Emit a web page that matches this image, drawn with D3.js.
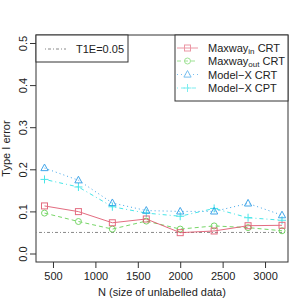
<!DOCTYPE html>
<html>
<head>
<meta charset="utf-8">
<script src="https://cdn.jsdelivr.net/npm/d3@7"></script>
<style>
  body { margin: 0; background: #fff; }
  svg { font-family: "Liberation Sans", Arial, sans-serif; }
</style>
</head>
<body>
<div id="container"></div>
<script>
const nValues = [400, 800, 1200, 1600, 2000, 2400, 2800, 3200];
const maxwayIn = [0.113, 0.0995, 0.073, 0.082, 0.0495, 0.0535, 0.066, 0.067];
const maxwayOut = [0.096, 0.076, 0.058, 0.077, 0.058, 0.0655, 0.0615, 0.054];
const modelXCrt = [0.203, 0.174, 0.12, 0.102, 0.1, 0.1, 0.119, 0.091];
const modelXCpt = [0.176, 0.158, 0.111, 0.096, 0.0885, 0.107, 0.085, 0.079];
const xTicks = [500, 1000, 1500, 2000, 2500, 3000];
const yTicks = [0, 0.1, 0.2, 0.3, 0.4, 0.5];
const threshold = 0.05;

const series = [
  { name: 'Maxway', sub: 'in', rest: ' CRT', values: maxwayIn, color: '#DF536B', dash: null, pch: 'square' },
  { name: 'Maxway', sub: 'out', rest: ' CRT', values: maxwayOut, color: '#61D04F', dash: '4,3', pch: 'circle' },
  { name: 'Model\u2212X CRT', sub: null, rest: '', values: modelXCrt, color: '#2297E6', dash: '1,3', pch: 'triangle' },
  { name: 'Model\u2212X CPT', sub: null, rest: '', values: modelXCpt, color: '#28E2E5', dash: '1,3,4,3', pch: 'plus' }
];

const width = 307, height = 307;
const box = { left: 36, right: 288, top: 35, bottom: 262 };

const svg = d3.select('#container').append('svg')
  .attr('width', width)
  .attr('height', height);

const x = d3.scaleLinear().domain([400, 3200]).range([44.5, 282]);
const y = d3.scaleLinear().domain([0, 0.5]).range([253.5, 43]);

// axes
const xAxis = d3.axisBottom(x).tickValues(xTicks).tickFormat(d3.format('d')).tickSize(6).tickPadding(4);
svg.append('g')
  .attr('transform', `translate(0, ${box.bottom})`)
  .call(xAxis)
  .call(g => g.select('.domain').remove())
  .call(g => g.selectAll('line').attr('stroke', '#333'))
  .call(g => g.selectAll('text').attr('font-size', 11).attr('fill', '#222').attr('font-family', null));

const yAxis = d3.axisLeft(y).tickValues(yTicks).tickFormat(d3.format('.1f')).tickSize(6).tickPadding(3);
const yg = svg.append('g')
  .attr('transform', `translate(${box.left}, 0)`)
  .call(yAxis)
  .call(g => g.select('.domain').remove())
  .call(g => g.selectAll('line').attr('stroke', '#333'));
yg.selectAll('text')
  .attr('font-size', 11).attr('fill', '#222').attr('font-family', null)
  .attr('x', null).attr('dy', null)
  .attr('text-anchor', 'middle')
  .attr('transform', 'translate(-9, 0) rotate(-90)');

// box
svg.append('rect')
  .attr('x', box.left).attr('y', box.top)
  .attr('width', box.right - box.left).attr('height', box.bottom - box.top)
  .attr('fill', 'none').attr('stroke', '#333');

// axis titles
svg.append('text')
  .attr('x', (box.left + box.right) / 2).attr('y', 296)
  .attr('text-anchor', 'middle').attr('font-size', 11).attr('fill', '#222')
  .text('N (size of unlabelled data)');
svg.append('text')
  .attr('transform', `translate(10, ${(box.top + box.bottom) / 2}) rotate(-90)`)
  .attr('text-anchor', 'middle').attr('font-size', 11).attr('fill', '#222')
  .text('Type I error');

// threshold line
svg.append('line')
  .attr('x1', box.left).attr('x2', box.right)
  .attr('y1', y(threshold)).attr('y2', y(threshold))
  .attr('stroke', '#888').attr('stroke-dasharray', '1,2,3,2');

function drawSymbol(g, type, cx, cy, color) {
  if (type === 'square') {
    g.append('rect').attr('x', cx - 3).attr('y', cy - 3).attr('width', 6).attr('height', 6)
      .attr('fill', 'none').attr('stroke', color);
  } else if (type === 'circle') {
    g.append('circle').attr('cx', cx).attr('cy', cy).attr('r', 3)
      .attr('fill', 'none').attr('stroke', color);
  } else if (type === 'triangle') {
    g.append('path').attr('d', `M${cx},${cy - 4}L${cx + 3.6},${cy + 2.6}L${cx - 3.6},${cy + 2.6}Z`)
      .attr('fill', 'none').attr('stroke', color);
  } else {
    g.append('path').attr('d', `M${cx - 4},${cy}H${cx + 4}M${cx},${cy - 4}V${cy + 4}`)
      .attr('fill', 'none').attr('stroke', color);
  }
}

const line = d3.line().x((d, i) => x(nValues[i])).y(d => y(d));

series.slice().reverse().forEach(s => {
  const g = svg.append('g').attr('opacity', 0.85);
  g.append('path')
    .attr('d', line(s.values))
    .attr('fill', 'none').attr('stroke', s.color).attr('stroke-width', 1)
    .attr('stroke-dasharray', s.dash);
  s.values.forEach((v, i) => drawSymbol(g, s.pch, x(nValues[i]), y(v), s.color));
});

// left legend
svg.append('rect')
  .attr('x', box.left).attr('y', box.top).attr('width', 92).attr('height', 27)
  .attr('fill', '#fff').attr('stroke', '#333');
svg.append('line')
  .attr('x1', 45).attr('x2', 66).attr('y1', 49).attr('y2', 49)
  .attr('stroke', '#888').attr('stroke-dasharray', '1,2,3,2');
svg.append('text')
  .attr('x', 76).attr('y', 53).attr('font-size', 11).attr('fill', '#222')
  .text('T1E=0.05');

// right legend
svg.append('rect')
  .attr('x', 175).attr('y', box.top).attr('width', box.right - 175).attr('height', 66)
  .attr('fill', '#fff').attr('stroke', '#333');
const legendY = [48, 61, 74.5, 88];
series.forEach((s, i) => {
  const ly = legendY[i];
  const g = svg.append('g').attr('opacity', 0.6);
  g.append('line')
    .attr('x1', 177).attr('x2', 198).attr('y1', ly).attr('y2', ly)
    .attr('stroke', s.color).attr('stroke-dasharray', s.dash);
  drawSymbol(g, s.pch, 187.5, ly, s.color);
  const t = svg.append('text')
    .attr('x', 208).attr('y', ly + 4).attr('font-size', 11).attr('fill', '#222');
  t.append('tspan').text(s.name);
  if (s.sub) {
    t.append('tspan').attr('font-size', 8).attr('dy', 2).text(s.sub);
    t.append('tspan').attr('dy', -2).text(s.rest);
  }
});
</script>
</body>
</html>
